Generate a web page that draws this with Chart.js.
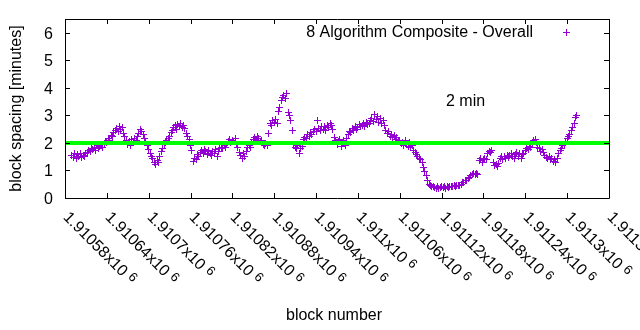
<!DOCTYPE html>
<html>
<head>
<meta charset="utf-8">
<title>Block spacing</title>
<script src="https://cdn.jsdelivr.net/npm/chart.js@4.4.1/dist/chart.umd.min.js"></script>
<style>
  html, body { margin: 0; padding: 0; background: #fff; }
  #wrap { width: 640px; height: 330px; }
</style>
</head>
<body>
<div id="wrap"><canvas id="spacingChart" width="640" height="330"></canvas></div>
<script>
// block spacing, one sample every 2 blocks starting at firstBlock
const firstBlock = 1910590;
const blockStep = 2;
const spacingMinutes = [
  1.55, 1.48, 1.60, 1.45, 1.58, 1.52, 1.62, 1.47, 1.56, 1.50,
  1.60, 1.66, 1.72, 1.68, 1.80, 1.75, 1.85, 1.72, 1.90, 1.78,
  1.88, 1.95, 1.82, 1.98, 2.05, 2.00, 2.15, 2.10, 2.28, 2.22,
  2.38, 2.45, 2.52, 2.40, 2.60, 2.48, 2.55, 2.35, 2.25, 2.08,
  1.95, 2.05, 1.92, 2.12, 2.05, 2.15, 2.08, 2.25, 2.35, 2.48,
  2.40, 2.30, 2.15, 2.02, 1.92, 1.75, 1.62, 1.50, 1.42, 1.30,
  1.22, 1.35, 1.28, 1.52, 1.68, 1.80, 1.95, 2.02, 2.08, 2.15,
  2.25, 2.38, 2.45, 2.55, 2.62, 2.50, 2.68, 2.58, 2.72, 2.55,
  2.65, 2.52, 2.35, 2.25, 2.12, 1.90, 1.72, 1.32, 1.45, 1.38,
  1.58, 1.50, 1.65, 1.72, 1.62, 1.75, 1.68, 1.58, 1.72, 1.62,
  1.55, 1.68, 1.60, 1.75, 1.52, 1.70, 1.78, 1.85, 1.80, 1.92,
  1.85, 1.95, 2.05, 2.12, 2.02, 2.10, 2.05, 2.15, 1.95, 1.82,
  1.65, 1.55, 1.45, 1.60, 1.52, 1.70, 1.82, 1.90, 1.85, 2.02,
  2.12, 2.20, 2.08, 2.25, 2.15, 2.05, 2.10, 1.95, 1.92, 1.98,
  1.90, 2.35, 2.72, 2.65, 2.80, 2.75, 2.85, 2.70, 3.15, 3.30,
  3.55, 3.65, 3.72, 3.60, 3.78, 3.10, 2.98, 2.80, 2.45, 1.95,
  1.85, 1.78, 1.90, 1.62, 1.80, 1.88, 2.12, 2.20, 2.15, 2.30,
  2.25, 2.38, 2.32, 2.42, 2.48, 2.40, 2.82, 2.52, 2.45, 2.60,
  2.50, 2.58, 2.45, 2.62, 2.55, 2.70, 2.65, 2.50, 2.20, 2.08,
  1.95, 2.05, 2.12, 1.88, 2.02, 2.10, 1.92, 2.15, 2.30, 2.42,
  2.38, 2.52, 2.45, 2.60, 2.48, 2.55, 2.68, 2.58, 2.62, 2.70,
  2.60, 2.75, 2.68, 2.72, 2.82, 2.90, 2.78, 3.02, 2.85, 2.95,
  2.75, 2.88, 2.70, 2.80, 2.65, 2.45, 2.35, 2.40, 2.25, 2.32,
  2.20, 2.28, 2.12, 2.18, 2.05, 2.10, 1.98, 2.02, 1.92, 2.08,
  1.95, 1.88, 2.00, 1.85, 1.90, 1.72, 1.65, 1.58, 1.50, 1.45,
  1.40, 1.28, 1.10, 0.95, 0.80, 0.62, 0.50, 0.45, 0.40, 0.42,
  0.38, 0.36, 0.40, 0.35, 0.38, 0.42, 0.37, 0.40, 0.36, 0.41,
  0.39, 0.43, 0.40, 0.42, 0.45, 0.41, 0.44, 0.47, 0.45, 0.50,
  0.55, 0.58, 0.62, 0.65, 0.70, 0.75, 0.80, 0.85, 0.90, 0.86,
  0.88, 0.84, 1.35, 1.42, 1.30, 1.38, 1.45, 1.40, 1.62, 1.70,
  1.65, 1.72, 1.28, 1.18, 1.22, 1.15, 1.25, 1.42, 1.50, 1.40,
  1.52, 1.45, 1.55, 1.48, 1.55, 1.62, 1.50, 1.45, 1.58, 1.65,
  1.52, 1.60, 1.42, 1.58, 1.62, 1.72, 1.80, 1.75, 1.88, 1.85,
  2.00, 2.08, 2.12, 2.02, 1.82, 1.78, 1.70, 1.75, 1.65, 1.55,
  1.48, 1.42, 1.52, 1.38, 1.45, 1.32, 1.40, 1.28, 1.45, 1.60,
  1.72, 1.80, 1.90, 1.95, 2.05, 2.15, 2.25, 2.32, 2.45, 2.55,
  2.70, 2.92, 2.98
];
const targetMinutes = 2;

const xTickValues = [1910580, 1910640, 1910700, 1910760, 1910820, 1910880, 1910940,
  1911000, 1911060, 1911120, 1911180, 1911240, 1911300, 1911360];
const xTickLabels = ['1.91058', '1.91064', '1.9107', '1.91076', '1.91082', '1.91088', '1.91094',
  '1.911', '1.91106', '1.91112', '1.91118', '1.91124', '1.9113', '1.91136'];
const yTickValues = [0, 1, 2, 3, 4, 5, 6];

const seriesLabel = '8 Algorithm Composite - Overall';
const targetLabel = '2 min';
const FONT = '"Liberation Sans", Arial, sans-serif';
const PURPLE = '#9400d3';

const points = spacingMinutes.map((v, i) => ({ x: firstBlock + i * blockStep, y: v }));
const xMin = xTickValues[0];
const xMax = xTickValues[xTickValues.length - 1];

// hard-edged 7px plus sign used as the point marker
const plusMark = document.createElement('canvas');
plusMark.width = 7;
plusMark.height = 7;
(function () {
  const c = plusMark.getContext('2d');
  c.fillStyle = PURPLE;
  c.fillRect(0, 3, 7, 1);
  c.fillRect(3, 0, 1, 7);
})();

const crispPoints = {
  id: 'crispPoints',
  beforeDatasetsDraw(chart) { chart.ctx.imageSmoothingEnabled = false; },
  afterDatasetsDraw(chart) { chart.ctx.imageSmoothingEnabled = true; }
};

// border, inward ticks, labels and key, drawn gnuplot-style on top of the chart
const framePlugin = {
  id: 'frame',
  afterDraw(chart) {
    const ctx = chart.ctx;
    const area = chart.chartArea;
    const xs = chart.scales.x;
    const ys = chart.scales.y;
    const tick = 5;
    ctx.save();
    ctx.strokeStyle = '#000';
    ctx.lineWidth = 1;
    ctx.beginPath();
    ctx.rect(Math.round(area.left) + 0.5, Math.round(area.top) + 0.5,
      Math.round(area.right - area.left), Math.round(area.bottom - area.top));
    ctx.stroke();

    ctx.fillStyle = '#000';
    ctx.font = '16px ' + FONT;

    // y ticks, mirrored on the right
    ctx.textAlign = 'right';
    ctx.textBaseline = 'middle';
    yTickValues.forEach(v => {
      const y = Math.round(ys.getPixelForValue(v)) + 0.5;
      ctx.beginPath();
      ctx.moveTo(area.left, y); ctx.lineTo(area.left + tick, y);
      ctx.moveTo(area.right, y); ctx.lineTo(area.right - tick, y);
      ctx.stroke();
      ctx.fillText(String(v), area.left - 12, y + 1);
    });

    // x ticks, mirrored on top, labels rotated down to the right
    xTickValues.forEach((v, i) => {
      const x = Math.round(xs.getPixelForValue(v)) + 0.5;
      ctx.beginPath();
      ctx.moveTo(x, area.bottom); ctx.lineTo(x, area.bottom - tick);
      ctx.moveTo(x, area.top); ctx.lineTo(x, area.top + tick);
      ctx.stroke();

      ctx.save();
      ctx.translate(x - 3, area.bottom + 20);
      ctx.rotate(Math.PI / 4);
      ctx.textAlign = 'left';
      ctx.textBaseline = 'alphabetic';
      ctx.font = '16px ' + FONT;
      const base = xTickLabels[i] + 'x10 ';
      ctx.fillText(base, 0, 0);
      const w = ctx.measureText(base).width;
      ctx.font = '13px ' + FONT;
      ctx.fillText('6', w, -4);
      ctx.restore();
    });

    // axis titles
    ctx.font = '16px ' + FONT;
    ctx.textAlign = 'center';
    ctx.textBaseline = 'middle';
    ctx.fillText('block number', (area.left + area.right) / 2 - 3, 316);
    ctx.save();
    ctx.translate(17, (area.top + area.bottom) / 2);
    ctx.rotate(-Math.PI / 2);
    ctx.fillText('block spacing [minutes]', 0, 0);
    ctx.restore();

    // target line label
    ctx.textAlign = 'left';
    ctx.fillText(targetLabel, 446, 102);

    // key
    ctx.textAlign = 'right';
    ctx.fillText(seriesLabel, 533, 33);
    ctx.imageSmoothingEnabled = false;
    ctx.drawImage(plusMark, 563, 29);
    ctx.restore();
  }
};

const ctx = document.getElementById('spacingChart').getContext('2d');
new Chart(ctx, {
  type: 'scatter',
  data: {
    datasets: [
      {
        label: targetLabel,
        data: [{ x: xMin, y: targetMinutes }, { x: xMax, y: targetMinutes }],
        showLine: true,
        borderColor: '#00ff00',
        borderWidth: 4,
        pointRadius: 0,
        order: 0
      },
      {
        label: seriesLabel,
        data: points,
        pointStyle: plusMark,
        pointRadius: 3.5,
        borderColor: PURPLE,
        backgroundColor: PURPLE,
        borderWidth: 1,
        order: 1
      }
    ]
  },
  options: {
    responsive: false,
    animation: false,
    layout: { padding: { left: 65, right: 31, top: 19, bottom: 132 } },
    plugins: { legend: { display: false }, tooltip: { enabled: false } },
    scales: {
      x: { type: 'linear', display: false, min: xMin, max: xMax },
      y: { display: false, min: 0, max: 6.5 }
    }
  },
  plugins: [crispPoints, framePlugin]
});
</script>
</body>
</html>
